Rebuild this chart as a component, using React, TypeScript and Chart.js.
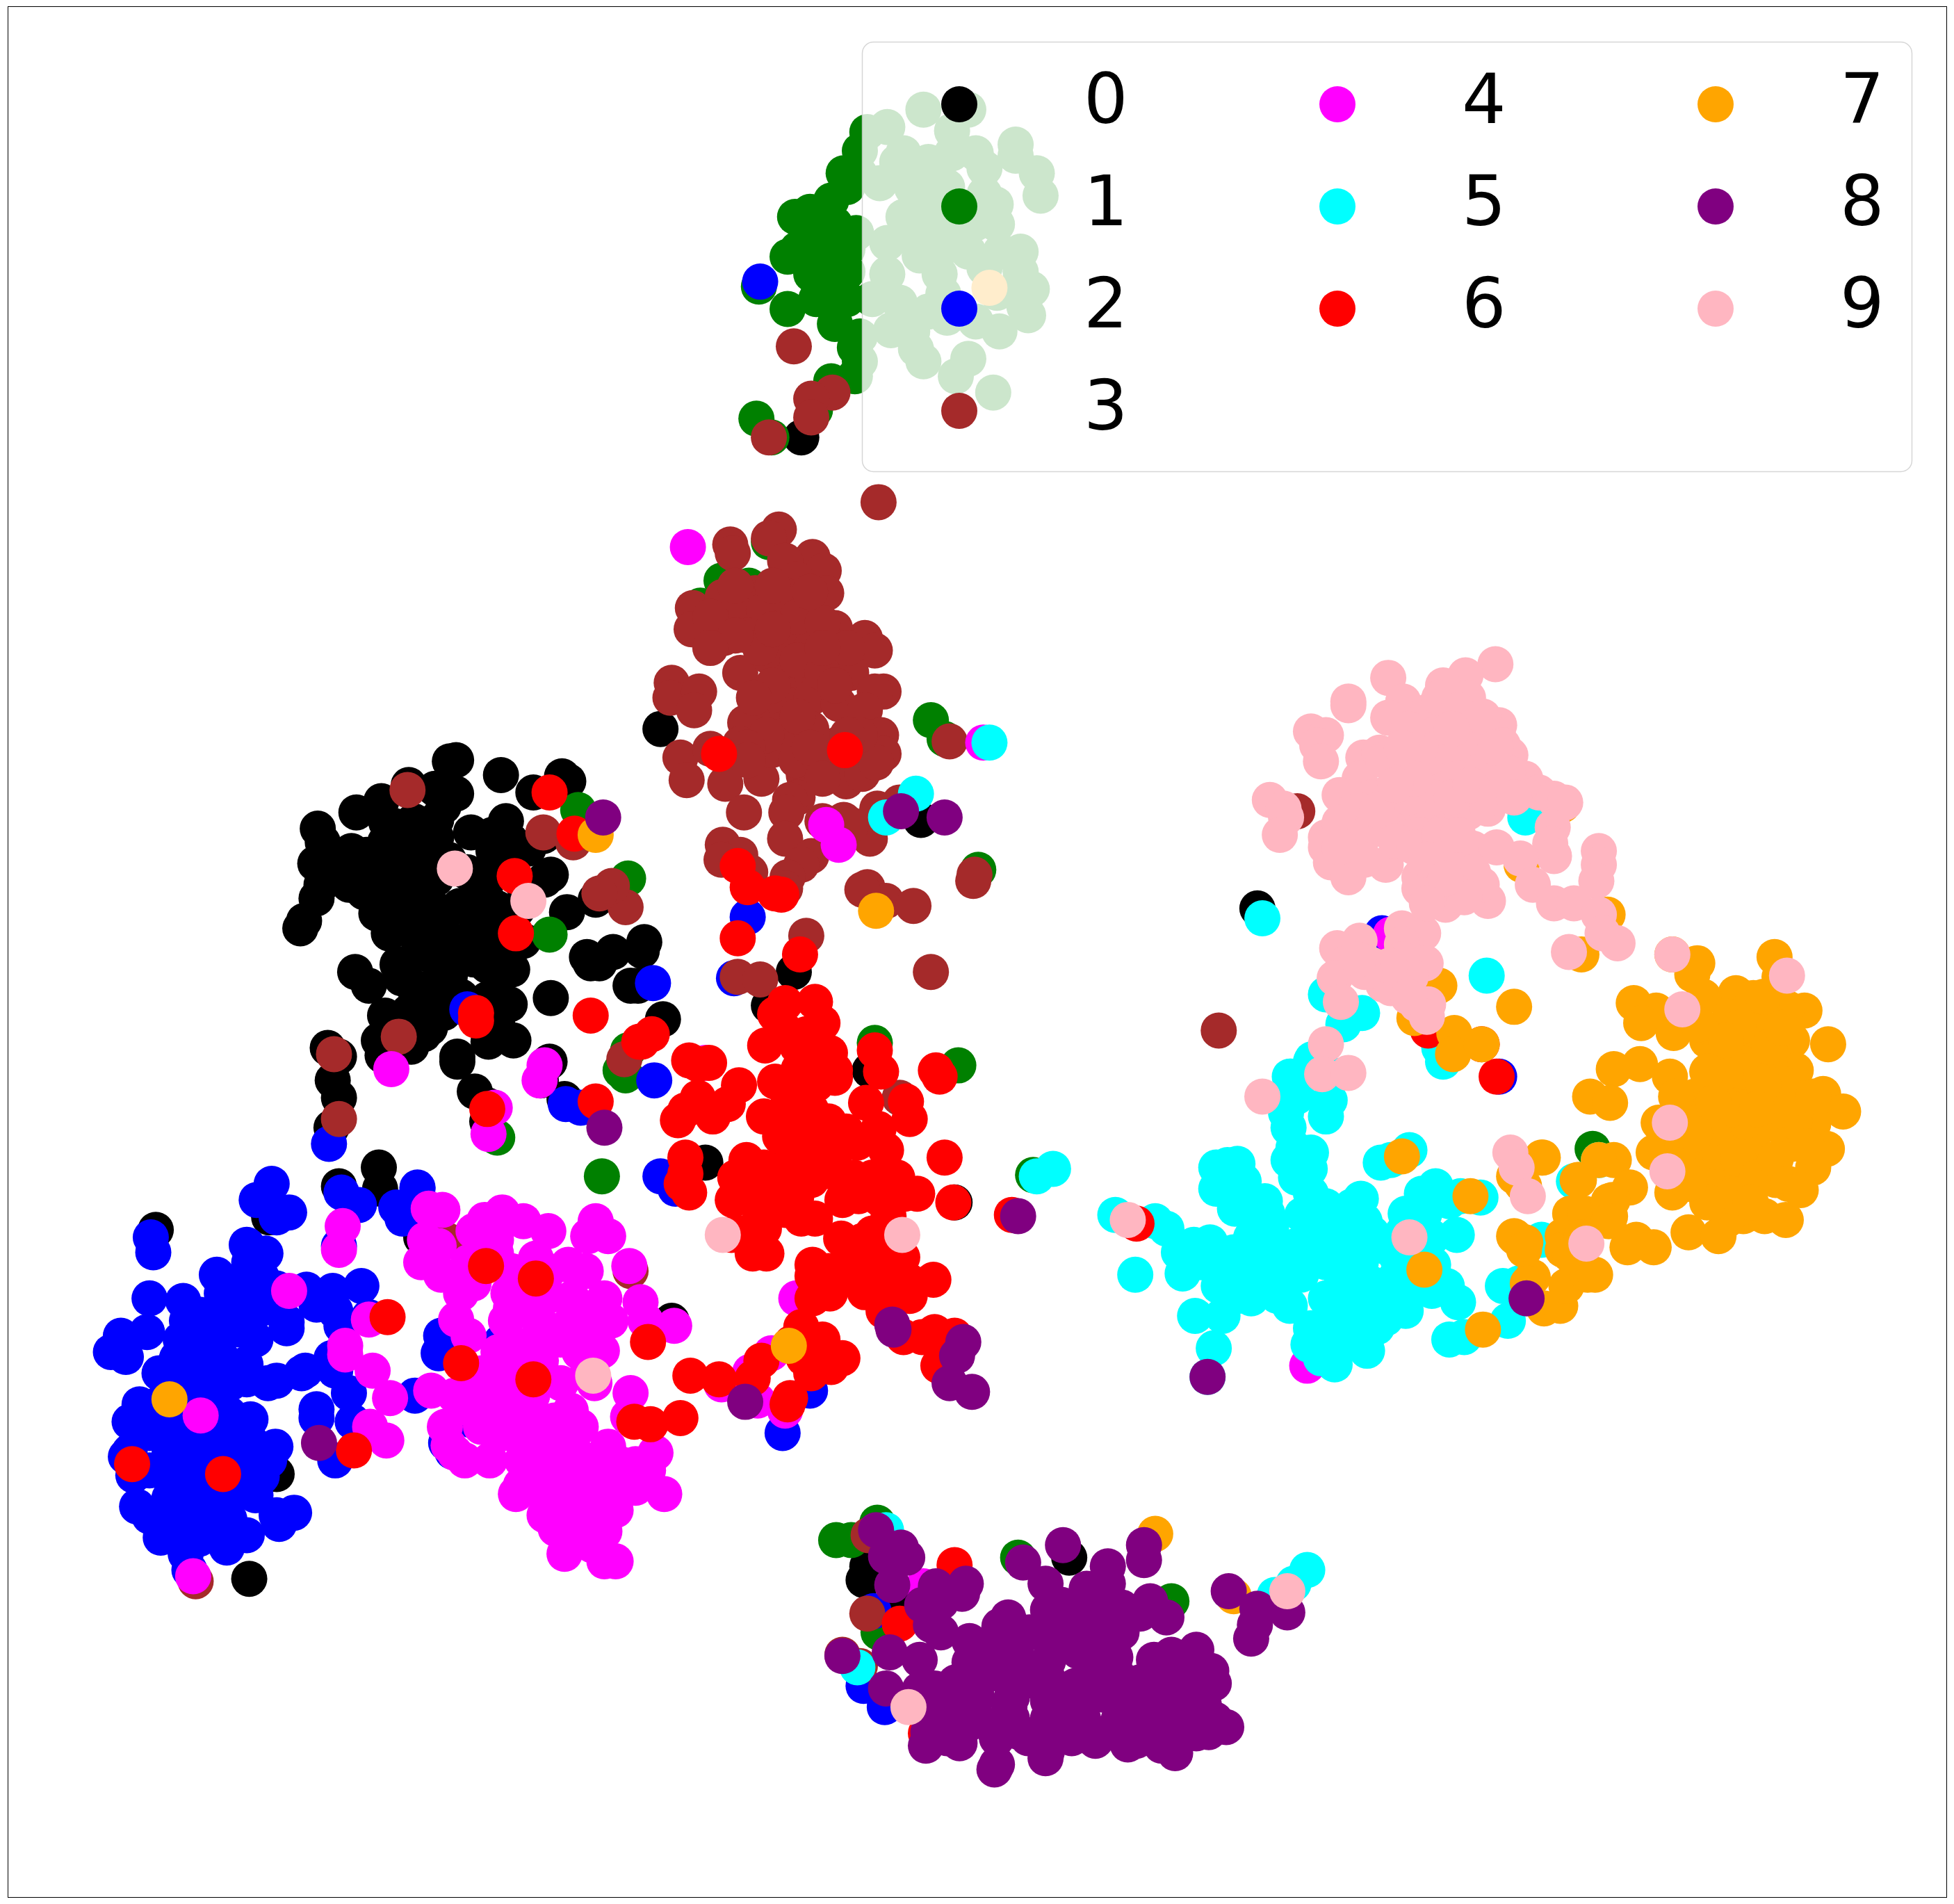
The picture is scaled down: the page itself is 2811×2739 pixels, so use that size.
import React, { useEffect, useRef } from "react";
import { Chart, registerables } from "chart.js";

Chart.register(...registerables);

const classLabels = ["0", "1", "2", "3", "4", "5", "6", "7", "8", "9"];
const classColors = ["#000000", "#008000", "#0000FF", "#A52A2A", "#FF00FF", "#00FFFF", "#FF0000", "#FFA500", "#800080", "#FFB6C1"];

type P = number[];

const class0: P[] = [[366,610],[361,611],[402,622],[451,623],[456,627],[428,636],[306,643],[328,630],[286,652],[255,665],[349,633],[366,637],[350,658],[356,647],[317,663],[332,659],[406,659],[378,668],[424,681],[436,671],[253,693],[259,676],[282,683],[272,691],[309,676],[329,691],[294,686],[317,705],[297,705],[343,693],[324,691],[396,683],[442,702],[437,706],[386,705],[339,715],[258,710],[254,721],[244,739],[241,745],[292,716],[302,733],[312,749],[329,744],[354,741],[369,727],[386,720],[366,756],[386,744],[399,729],[455,732],[478,722],[471,768],[474,773],[492,764],[481,773],[517,756],[515,763],[506,791],[512,791],[532,818],[442,801],[285,780],[296,791],[319,774],[336,763],[322,785],[332,792],[361,783],[391,775],[411,778],[401,780],[409,806],[391,802],[309,815],[328,812],[356,813],[304,835],[307,847],[315,846],[392,836],[412,835],[399,821],[367,848],[367,852],[381,876],[391,887],[391,900],[441,852],[434,867],[263,841],[272,848],[267,867],[272,881],[266,905],[453,882],[340,720],[350,730],[360,755],[340,765],[375,700],[345,680],[300,700],[320,730],[350,790],[370,800],[345,810],[380,770],[380,750],[395,760],[330,725],[360,690],[350,705],[345,745],[400,700],[410,695],[420,710],[415,730],[400,750],[390,720],[280,710],[275,700],[310,720],[370,770],[350,770],[380,810],[335,800],[340,830],[320,830],[345,825],[330,840],[390,820],[400,800],[420,755],[310,660],[330,672],[350,672],[395,670],[410,675],[125,987],[304,937],[305,954],[272,952],[216,977],[222,1183],[200,1267],[539,1060],[338,993],[530,585],[637,780],[739,658],[698,859],[566,933],[766,965],[617,807],[858,1250],[696,1257],[693,1268],[718,1285],[1009,729],[643,351]];

const class1: P[] = [[741,88],[777,88],[696,106],[712,102],[764,105],[815,116],[690,121],[725,123],[764,123],[815,125],[783,123],[677,139],[706,147],[832,139],[835,157],[667,161],[638,174],[664,174],[732,151],[790,156],[799,164],[725,174],[764,174],[783,179],[632,206],[664,200],[687,187],[712,195],[738,205],[777,202],[819,202],[770,197],[803,202],[651,220],[680,218],[712,220],[754,220],[828,232],[819,218],[609,230],[632,248],[664,238],[700,240],[722,243],[757,236],[825,253],[822,246],[783,258],[802,266],[670,260],[732,266],[741,290],[686,279],[777,288],[686,302],[767,302],[667,306],[797,315],[654,329],[607,336],[619,351],[675,190],[675,225],[650,195],[745,140],[745,185],[745,130],[760,150],[745,165],[735,190],[790,135],[800,180],[720,130],[750,200],[790,215],[800,235],[760,255],[745,250],[715,265],[735,280],[650,170],[650,210],[665,220],[680,200],[640,200],[670,180],[680,240],[655,240],[680,150],[690,140],[690,270],[690,290],[579,466],[601,470],[562,486],[617,435],[747,578],[758,593],[785,698],[504,705],[702,837],[769,855],[502,863],[829,943],[464,650],[441,750],[498,859],[504,843],[399,913],[483,944],[940,1285],[817,1250],[704,1222],[683,1236],[671,1236],[705,1310],[1278,922]];

const class2: P[] = [[218,950],[206,963],[232,973],[222,977],[121,993],[123,1005],[198,999],[213,1006],[274,957],[288,967],[335,954],[318,969],[323,978],[272,1000],[174,1023],[200,1013],[222,1034],[246,1035],[267,1036],[290,1032],[120,1042],[147,1044],[178,1038],[197,1045],[254,1047],[269,1052],[230,1061],[230,1066],[97,1072],[118,1069],[89,1085],[101,1089],[145,1075],[168,1070],[193,1067],[274,1064],[296,1057],[142,1090],[178,1090],[197,1095],[222,1108],[242,1102],[266,1090],[269,1100],[280,1118],[128,1102],[162,1095],[165,1112],[198,1107],[112,1127],[104,1141],[136,1122],[184,1135],[201,1139],[254,1131],[254,1138],[283,1141],[104,1165],[101,1169],[107,1184],[129,1145],[136,1167],[168,1162],[185,1166],[221,1161],[216,1172],[269,1172],[110,1209],[120,1217],[129,1234],[149,1247],[152,1260],[149,1194],[165,1194],[197,1184],[190,1198],[152,1219],[171,1214],[182,1242],[198,1232],[222,1216],[224,1223],[236,1214],[184,1219],[136,1202],[150,1110],[130,1125],[150,1130],[170,1130],[120,1150],[150,1150],[120,1180],[135,1185],[150,1170],[170,1180],[180,1150],[130,1215],[150,1210],[170,1230],[160,1235],[140,1225],[180,1070],[160,1055],[150,1060],[170,1055],[190,1030],[180,1050],[210,1025],[160,1085],[185,1110],[150,1090],[210,1050],[205,1075],[215,1110],[205,1200],[210,1185],[195,1175],[200,1155],[245,1100],[170,1145],[354,1072],[352,1086],[402,1077],[333,1120],[358,1158],[363,1165],[379,1140],[530,944],[542,954],[264,918],[524,789],[589,785],[525,867],[375,810],[454,886],[466,889],[335,953],[600,736],[592,958],[650,1116],[628,1150],[701,1293],[693,1353],[710,1370],[1109,749],[1203,864],[610,226]];

const class3: P[] = [[705,403],[586,437],[588,444],[625,425],[617,432],[652,447],[661,458],[663,476],[630,450],[639,465],[556,488],[555,505],[580,479],[606,476],[581,512],[594,540],[598,495],[613,490],[630,478],[647,490],[670,504],[694,512],[702,522],[630,510],[651,520],[617,527],[634,545],[651,540],[683,540],[709,555],[702,555],[539,548],[538,560],[561,555],[557,570],[613,572],[598,580],[630,565],[651,560],[673,565],[694,570],[707,590],[709,605],[546,608],[551,626],[570,601],[582,629],[611,625],[594,597],[619,602],[645,622],[639,610],[662,607],[679,627],[692,621],[703,612],[630,585],[651,585],[673,597],[600,510],[610,520],[640,495],[660,500],[620,470],[650,475],[640,530],[660,540],[620,550],[605,560],[640,575],[670,550],[680,520],[615,590],[600,600],[650,600],[690,590],[660,625],[640,640],[600,610],[680,590],[660,520],[570,495],[590,510],[570,520],[590,470],[620,505],[597,652],[634,642],[631,652],[630,673],[660,659],[677,658],[704,649],[722,644],[698,673],[683,662],[580,678],[594,686],[579,690],[602,700],[651,687],[643,694],[632,704],[630,713],[696,712],[711,723],[692,714],[733,727],[781,707],[782,702],[762,595],[502,728],[647,751],[747,780],[327,634],[436,668],[460,676],[491,711],[481,717],[592,784],[610,786],[320,832],[268,846],[272,898],[501,850],[722,881],[630,932],[1041,651],[978,827],[157,1269],[358,995],[506,1020],[696,1295],[697,1232],[676,1328],[690,1337],[637,278],[668,315],[651,320],[651,335],[617,351]];

const class4: P[] = [[344,970],[355,971],[403,973],[389,979],[420,980],[440,988],[478,980],[472,992],[488,992],[275,984],[272,1003],[380,988],[398,995],[341,995],[352,1000],[338,1013],[398,1006],[354,1023],[376,1013],[505,1016],[456,1015],[470,1020],[370,1038],[418,1030],[408,1038],[485,1042],[459,1042],[514,1045],[366,1059],[376,1072],[406,1060],[429,1055],[459,1060],[440,1067],[518,1060],[541,1064],[478,1072],[483,1084],[421,1080],[434,1092],[296,1059],[277,1080],[277,1087],[299,1100],[313,1122],[232,1036],[402,1097],[387,1102],[472,1100],[477,1110],[450,1110],[346,1116],[365,1120],[395,1117],[427,1120],[506,1118],[504,1137],[458,1132],[395,1135],[466,1145],[357,1145],[360,1160],[365,1166],[373,1172],[393,1172],[386,1145],[427,1155],[446,1157],[488,1161],[526,1166],[466,1170],[498,1175],[419,1172],[533,1199],[418,1192],[414,1199],[510,1194],[446,1192],[472,1189],[494,1212],[437,1216],[466,1209],[446,1227],[485,1229],[453,1247],[485,1253],[494,1253],[475,1207],[440,1170],[455,1180],[480,1180],[430,1185],[450,1200],[470,1225],[460,1215],[490,1190],[500,1195],[520,1180],[440,1210],[475,1240],[455,1235],[510,1175],[430,1140],[445,1140],[410,1130],[415,1105],[400,1085],[440,1040],[440,1020],[430,1010],[410,1020],[450,1075],[465,1085],[410,1050],[470,1060],[490,1060],[390,1000],[380,1030],[345,1010],[420,1095],[380,1110],[375,1130],[405,1150],[297,1145],[310,1156],[155,1265],[161,1136],[552,439],[663,662],[673,678],[789,596],[314,858],[437,855],[433,867],[397,889],[392,910],[634,940],[566,853],[639,1042],[619,1086],[602,1101],[579,1111],[608,1124],[630,1132],[741,1273],[1049,1096],[1116,750]];

const class5: P[] = [[895,975],[927,980],[936,986],[911,1023],[974,1082],[971,997],[958,999],[946,1005],[949,1022],[964,1013],[978,1032],[959,1056],[981,1056],[976,937],[985,935],[993,934],[976,954],[998,948],[991,970],[1015,964],[1017,974],[1004,993],[1007,980],[1025,1007],[1038,1007],[998,1023],[1015,1030],[993,1040],[1004,1042],[1052,925],[1034,931],[1051,938],[1052,958],[1032,893],[1034,905],[1038,921],[1035,864],[1052,852],[1064,860],[1067,883],[1064,896],[1041,880],[1064,968],[1085,968],[1092,962],[1095,980],[1064,987],[1101,990],[1075,993],[1064,1013],[1092,1013],[1044,1023],[1121,1009],[1035,1048],[1064,1042],[1089,1032],[1115,1032],[1135,1032],[1128,1052],[1112,1058],[1084,1052],[1052,1066],[1050,1079],[1071,1095],[1097,1084],[1081,1075],[1149,1036],[1170,1045],[1161,1032],[1169,991],[1149,993],[1135,989],[1128,974],[1141,958],[1152,952],[1172,960],[1188,961],[1143,974],[1163,964],[1108,933],[1116,931],[1131,923],[1163,1075],[1175,1073],[1206,1032],[1219,1030],[1210,1060],[1237,995],[1263,948],[1283,931],[969,1105],[1158,852],[1155,841],[1193,783],[1013,737],[1064,798],[1093,813],[1078,822],[1053,850],[1036,864],[1060,1000],[1075,1020],[1085,1000],[1050,1000],[1100,1030],[1110,1000],[1120,1000],[1070,1050],[1095,1050],[1075,1070],[1060,1090],[1090,1065],[1030,1020],[1010,1010],[1025,1040],[990,1005],[985,1020],[975,1015],[1075,975],[1105,1065],[1125,990],[1120,1025],[990,955],[1000,965],[1040,945],[1045,975],[1040,1000],[1020,985],[1080,1040],[1140,1010],[1150,1015],[1224,656],[794,596],[735,637],[711,656],[832,944],[845,938],[711,1228],[688,1338],[1049,1260],[1038,1271],[1023,1280]];

const class6: P[] = [[630,805],[654,804],[622,814],[660,821],[614,839],[666,845],[630,827],[647,830],[670,859],[670,865],[622,868],[641,858],[702,843],[707,860],[751,859],[754,864],[593,871],[560,881],[553,851],[569,853],[560,854],[523,830],[513,836],[544,899],[550,891],[572,896],[584,886],[695,885],[727,884],[730,898],[613,896],[651,891],[630,891],[626,912],[679,908],[688,917],[711,923],[705,906],[758,929],[550,929],[550,942],[547,950],[553,957],[599,931],[613,937],[666,940],[651,947],[736,958],[726,958],[706,962],[689,960],[676,963],[765,965],[588,963],[602,960],[622,955],[639,960],[630,971],[654,978],[643,978],[587,991],[609,981],[615,1006],[604,1006],[613,986],[675,994],[692,996],[713,976],[812,975],[652,1015],[652,1024],[652,1042],[666,1038],[683,1012],[681,1024],[694,1037],[705,1024],[724,1009],[728,1027],[718,1027],[749,1027],[709,1052],[725,1073],[740,1073],[750,1069],[766,1072],[753,1096],[643,1065],[635,1078],[652,1087],[676,1090],[667,1097],[651,1102],[611,1092],[604,1106],[554,1104],[577,1107],[634,1122],[632,1127],[640,880],[640,840],[650,860],[655,870],[640,905],[660,905],[655,925],[640,930],[625,940],[670,925],[665,900],[720,945],[700,945],[685,945],[700,990],[710,1000],[720,1015],[700,1015],[690,1020],[710,1040],[730,1040],[665,1020],[600,950],[590,945],[610,965],[595,990],[605,995],[645,1090],[660,1075],[546,1138],[522,1143],[509,1141],[520,1077],[577,605],[678,602],[592,695],[600,712],[627,718],[622,717],[592,753],[642,766],[441,636],[461,669],[413,703],[414,749],[474,815],[382,813],[382,819],[515,836],[478,884],[391,890],[311,1057],[390,1016],[430,1026],[370,1094],[428,1107],[106,1175],[179,1183],[284,1164],[766,1256],[722,1303],[743,1391],[912,982],[1146,827],[1189,838],[1201,864]];

const class7: P[] = [[1424,768],[1342,766],[1362,773],[1358,782],[1428,784],[1311,805],[1329,811],[1317,821],[1393,797],[1407,801],[1367,800],[1343,829],[1448,811],[1434,809],[1467,838],[1388,816],[1413,822],[1438,835],[1370,835],[1402,838],[1363,822],[1295,858],[1316,854],[1340,864],[1377,848],[1399,854],[1441,859],[1420,854],[1276,880],[1292,885],[1369,874],[1388,886],[1409,880],[1463,878],[1479,892],[1448,886],[1431,870],[1331,901],[1363,893],[1384,905],[1420,902],[1455,902],[1327,925],[1370,918],[1406,918],[1438,918],[1466,922],[1356,937],[1384,944],[1418,934],[1455,937],[1342,957],[1370,949],[1425,947],[1399,976],[1416,976],[1433,979],[1386,979],[1355,989],[1379,992],[1390,870],[1400,900],[1380,925],[1395,930],[1410,945],[1425,930],[1440,900],[1400,860],[1385,860],[1370,860],[1360,880],[1350,900],[1350,920],[1345,935],[1395,825],[1420,840],[1385,835],[1415,800],[1430,825],[1390,960],[1405,965],[1370,965],[1375,905],[1430,890],[1455,880],[1450,920],[1415,870],[1345,880],[1360,910],[1390,890],[1375,885],[1410,890],[1435,950],[1445,955],[1355,950],[1340,940],[1238,929],[1215,944],[1221,950],[1125,928],[1180,960],[1295,931],[1283,931],[1308,953],[1267,947],[1294,963],[1260,974],[1292,976],[1215,992],[1224,997],[1254,992],[1313,995],[1327,1001],[1155,791],[1215,808],[1167,829],[1166,846],[1189,838],[1290,734],[1269,766],[1254,646],[1221,694],[1135,817],[1190,1067],[1143,1019],[1216,993],[1223,1003],[1230,1025],[1226,1030],[1239,1050],[1252,1048],[1257,1032],[1274,1023],[1254,1003],[1272,974],[1291,964],[1266,947],[1237,929],[1223,952],[1269,993],[1260,1007],[1280,1023],[1306,1001],[1291,980],[633,1080],[703,731],[478,670],[136,1123],[794,231],[927,1231],[990,1281]];

const class8: P[] = [[703,1228],[723,1242],[728,1250],[711,1249],[716,1272],[821,1254],[853,1240],[918,1240],[918,1252],[889,1257],[839,1271],[872,1275],[889,1271],[923,1285],[936,1298],[751,1273],[775,1271],[772,1279],[755,1286],[740,1288],[747,1304],[755,1310],[809,1298],[841,1292],[852,1288],[886,1297],[915,1295],[802,1305],[778,1317],[826,1310],[869,1309],[900,1310],[986,1277],[1009,1291],[1033,1294],[1007,1304],[1004,1315],[960,1324],[940,1328],[926,1332],[972,1341],[974,1351],[714,1326],[738,1332],[676,1329],[778,1334],[801,1328],[841,1333],[886,1328],[767,1350],[804,1344],[829,1344],[863,1353],[898,1346],[932,1348],[955,1341],[711,1355],[738,1356],[755,1370],[784,1362],[812,1362],[841,1365],[869,1367],[898,1363],[926,1363],[955,1362],[966,1368],[984,1386],[960,1391],[926,1379],[898,1379],[869,1379],[841,1379],[812,1379],[784,1379],[758,1379],[797,1387],[818,1390],[845,1387],[862,1384],[898,1383],[935,1392],[912,1397],[932,1401],[943,1407],[879,1397],[840,1406],[839,1411],[770,1399],[743,1401],[800,1416],[798,1420],[926,1387],[946,1391],[790,1320],[815,1325],[850,1310],[865,1325],[875,1340],[840,1345],[820,1350],[790,1345],[770,1365],[750,1355],[775,1385],[800,1395],[825,1395],[860,1395],[890,1390],[910,1385],[920,1370],[945,1375],[960,1375],[950,1345],[945,1355],[915,1350],[885,1360],[855,1365],[880,1310],[900,1290],[895,1330],[870,1290],[810,1315],[850,1320],[745,1390],[760,1395],[810,1370],[745,1360],[885,1345],[915,1378],[940,1400],[905,1400],[950,1390],[975,1380],[970,1390],[484,656],[485,905],[256,1158],[723,651],[758,656],[817,976],[717,1067],[773,1077],[768,1088],[762,1110],[780,1117],[716,1063],[598,1125],[969,1105],[1225,1042]];

const class9: P[] = [[1200,533],[1176,542],[1158,550],[1114,544],[1082,563],[1082,566],[1052,587],[1064,590],[1057,598],[1060,611],[1126,563],[1114,576],[1178,560],[1146,571],[1203,582],[1206,598],[1212,606],[1094,608],[1125,617],[1107,604],[1153,592],[1182,585],[1174,608],[1196,614],[1150,611],[1091,625],[1075,638],[1114,636],[1224,625],[1235,636],[1247,641],[1256,644],[1160,633],[1192,636],[1210,630],[1178,652],[1019,642],[1030,649],[1032,656],[1027,670],[1080,654],[1118,652],[1141,652],[1167,654],[1194,649],[1246,664],[1244,677],[1247,687],[1064,672],[1064,680],[1087,672],[1110,665],[1139,670],[1068,692],[1082,704],[1112,694],[1139,704],[1139,713],[1160,691],[1182,681],[1201,680],[1220,689],[1283,683],[1283,694],[1281,707],[1230,710],[1247,725],[1263,725],[1283,734],[1286,749],[1298,757],[1259,764],[1160,726],[1194,723],[1189,710],[1167,713],[1182,700],[1125,745],[1142,749],[1091,755],[1073,761],[1100,774],[1125,758],[1144,773],[1078,774],[1071,785],[1076,804],[1110,790],[1132,784],[1137,806],[1146,806],[1145,816],[1116,793],[1150,590],[1165,600],[1140,600],[1130,585],[1155,560],[1170,570],[1190,600],[1185,620],[1170,625],[1150,640],[1130,640],[1100,640],[1090,650],[1075,660],[1095,670],[1120,675],[1135,625],[1165,640],[1180,630],[1200,640],[1095,690],[1075,680],[1110,610],[1135,680],[1155,670],[1170,670],[1105,650],[1145,690],[1175,720],[1160,705],[1145,725],[1120,630],[1125,600],[1210,620],[1190,575],[1165,585],[1200,600],[1215,640],[1125,770],[1115,775],[1095,780],[1130,800],[1090,770],[1342,766],[1434,783],[1350,810],[1340,901],[1338,940],[1064,838],[1061,862],[1082,861],[1013,880],[1212,925],[1217,937],[1226,960],[1273,998],[1131,993],[365,697],[424,723],[476,1104],[580,991],[724,991],[729,1370],[1033,1277],[905,979]];

const classPoints = [class0, class1, class2, class3, class4, class5, class6, class7, class8, class9];

const legendOrder = [0, 1, 2, 3, 4, 5, 6, 7, 8, 9];
const legendColumns = [4, 3, 3];

const W = 2811;
const H = 2739;

const framePlugin = {
  id: "frameAndLegend",
  beforeDraw(chart: any) {
    const ctx = chart.ctx;
    ctx.save();
    ctx.fillStyle = "#ffffff";
    ctx.fillRect(0, 0, W, H);
    ctx.restore();
  },
  afterDraw(chart: any) {
    const ctx = chart.ctx;
    ctx.save();
    ctx.strokeStyle = "#000000";
    ctx.lineWidth = 1;
    ctx.strokeRect(11.5, 9.5, 2789, 2720);
    ctx.beginPath();
    ctx.roundRect(1240.5, 60.5, 1510, 618, 16);
    ctx.fillStyle = "rgba(255,255,255,0.8)";
    ctx.fill();
    ctx.strokeStyle = "rgba(204,204,204,0.8)";
    ctx.lineWidth = 1.5;
    ctx.stroke();
    ctx.font = '100px "DejaVu Sans"';
    ctx.textAlign = "left";
    ctx.textBaseline = "alphabetic";
    let idx = 0;
    legendColumns.forEach((count, c) => {
      for (let r = 0; r < count; r++) {
        const k = legendOrder[idx++];
        const mx = 1380 + c * 544;
        const my = 150 + r * 147;
        ctx.beginPath();
        ctx.arc(mx, my, 26, 0, Math.PI * 2);
        ctx.fillStyle = classColors[k];
        ctx.fill();
        ctx.fillStyle = "#000000";
        ctx.fillText(classLabels[k], 1559 + c * 544, 177 + r * 147);
      }
    });
    ctx.restore();
  },
};

export default function App() {
  const ref = useRef<HTMLCanvasElement | null>(null);
  useEffect(() => {
    document.body.style.margin = "0";
    const chart = new Chart(ref.current as HTMLCanvasElement, {
      type: "scatter",
      data: {
        datasets: classPoints.map((pts, i) => ({
          label: classLabels[i],
          data: pts.map(([x, y]) => ({ x, y })),
          backgroundColor: classColors[i],
          borderWidth: 0,
          pointRadius: 26,
          pointHoverRadius: 26,
          order: classPoints.length - i,
        })),
      },
      options: {
        responsive: false,
        animation: false,
        devicePixelRatio: 1,
        layout: { padding: 0, autoPadding: false },
        plugins: { legend: { display: false }, tooltip: { enabled: false } },
        scales: {
          x: { type: "linear", min: 0, max: 1568, display: false },
          y: { type: "linear", min: 0, max: 1528, reverse: true, display: false },
        },
      },
      plugins: [framePlugin],
    } as any);
    return () => chart.destroy();
  }, []);
  return <canvas ref={ref} width={W} height={H} style={{ display: "block" }} />;
}
